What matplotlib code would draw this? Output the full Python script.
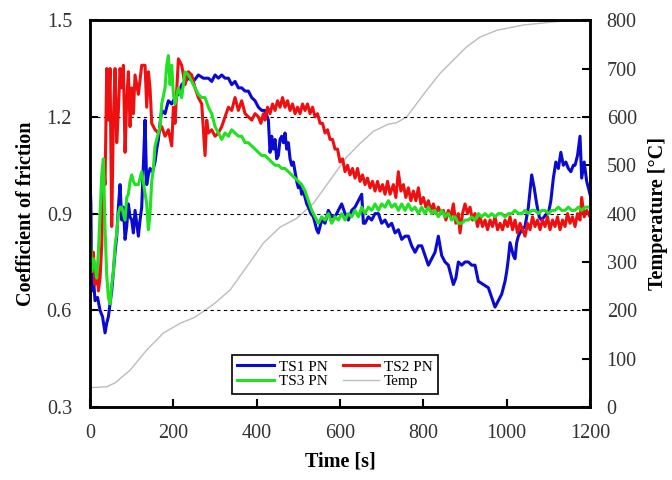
import matplotlib
matplotlib.use('Agg')
import matplotlib.pyplot as plt
from matplotlib.ticker import MultipleLocator

plt.rcParams['font.family'] = ['Liberation Serif', 'DejaVu Serif']

# Coefficient of friction, TS1 PN
ts1_t = [0, 2, 4, 8, 12, 18, 24, 30, 36, 40, 44, 48, 52, 56, 60, 64, 68, 72, 76, 80,
         84, 88, 92, 96, 100, 104, 108, 112, 116, 120, 124, 128, 132, 136, 140, 144,
         150, 156, 160, 164, 168, 172, 180, 188, 196, 204, 212, 220, 228, 236, 248,
         260, 272, 284, 292, 300, 308, 316, 324, 332, 340, 348, 356, 364, 372, 380,
         388, 396, 404, 412, 420, 428, 432, 436, 440, 444, 448, 452, 456, 460, 464,
         468, 472, 476, 480, 484, 488, 492, 496, 500, 504, 508, 512, 516, 520, 524,
         530, 536, 540, 544, 548, 552, 556, 564, 572, 580, 588, 596, 604, 612, 620,
         628, 636, 644, 652, 656, 660, 668, 676, 684, 692, 700, 708, 716, 724, 732,
         740, 748, 756, 764, 772, 780, 788, 796, 804, 812, 820, 828, 836, 844, 852,
         860, 866, 872, 878, 884, 892, 900, 908, 916, 924, 932, 944, 956, 964, 972,
         980, 988, 996, 1000, 1004, 1008, 1012, 1016, 1020, 1024, 1028, 1036, 1044,
         1052, 1060, 1066, 1072, 1078, 1084, 1090, 1096, 1100, 1106, 1112, 1118,
         1124, 1130, 1136, 1142, 1148, 1154, 1160, 1164, 1170, 1176, 1180, 1186,
         1192, 1196, 1200]
ts1_cof = [1.00, 0.93, 0.66, 0.70, 0.63, 0.64, 0.60, 0.58, 0.53, 0.56, 0.58, 0.62,
           0.66, 0.72, 0.78, 0.83, 0.92, 0.99, 0.88, 0.92, 0.82, 0.86, 0.93, 0.89,
           0.88, 0.84, 0.91, 0.87, 0.83, 0.88, 0.92, 1.05, 1.19, 0.99, 1.02, 1.04,
           1.03, 1.06, 1.10, 1.13, 1.18, 1.22, 1.21, 1.25, 1.24, 1.26, 1.27, 1.30,
           1.31, 1.32, 1.31, 1.33, 1.32, 1.32, 1.31, 1.33, 1.32, 1.33, 1.32, 1.32,
           1.30, 1.31, 1.29, 1.29, 1.28, 1.28, 1.26, 1.25, 1.23, 1.22, 1.22, 1.19,
           1.09, 1.14, 1.10, 1.13, 1.07, 1.08, 1.13, 1.14, 1.12, 1.15, 1.10, 1.12,
           1.07, 1.05, 1.06, 1.03, 1.00, 0.98, 0.99, 0.96, 0.97, 0.95, 0.93, 0.92,
           0.90, 0.89, 0.87, 0.85, 0.84, 0.86, 0.88, 0.87, 0.91, 0.89, 0.89, 0.91,
           0.93, 0.90, 0.88, 0.91, 0.92, 0.94, 0.96, 0.87, 0.87, 0.89, 0.88, 0.90,
           0.90, 0.87, 0.88, 0.86, 0.87, 0.84, 0.85, 0.82, 0.83, 0.83, 0.80, 0.78,
           0.80, 0.80, 0.77, 0.74, 0.76, 0.78, 0.83, 0.77, 0.75, 0.74, 0.71, 0.68,
           0.70, 0.75, 0.74, 0.75, 0.75, 0.74, 0.74, 0.69, 0.68, 0.67, 0.64, 0.61,
           0.63, 0.65, 0.69, 0.72, 0.76, 0.81, 0.79, 0.77, 0.76, 0.81, 0.83, 0.85,
           0.86, 0.92, 1.02, 0.98, 0.93, 0.89, 0.88, 0.89, 0.90, 0.90, 0.94, 1.01,
           1.06, 1.04, 1.09, 1.05, 1.06, 1.04, 1.03, 1.05, 1.05, 1.08, 1.14, 1.01,
           1.06, 1.00, 0.98, 0.96]

# Coefficient of friction, TS2 PN
ts2_t = [0, 4, 8, 12, 16, 20, 24, 28, 32, 36, 40, 44, 48, 52, 56, 60, 64, 68, 72, 76,
         80, 84, 88, 92, 96, 100, 104, 108, 116, 124, 132, 136, 140, 144, 148, 156,
         164, 172, 180, 188, 196, 200, 204, 208, 212, 220, 228, 236, 244, 252, 260,
         268, 272, 276, 280, 284, 292, 300, 308, 316, 324, 332, 340, 348, 356, 364,
         372, 380, 388, 396,
         404, 410, 416, 420, 426, 432, 438, 444, 450, 456, 462, 468, 474, 480, 486,
         492, 498, 504, 510, 516, 522, 528, 534, 540, 546, 552, 558, 564, 570, 576,
         582, 588, 594, 600, 606, 612, 618, 624, 630, 636, 642, 648, 654, 660, 666,
         672, 678, 684, 690, 696, 702, 708, 714, 720, 728, 734, 740, 746, 752, 758,
         764, 770, 776, 782, 788, 794, 800, 806, 812, 818, 824, 830, 836, 842, 848,
         854, 860, 866, 872, 878, 884, 888, 894, 900, 906, 912, 918, 924, 930, 936,
         942, 948, 954, 960, 966, 972, 978, 984, 990, 996, 1002, 1008, 1014, 1020,
         1026, 1032, 1038, 1044, 1050, 1056, 1062, 1068, 1074, 1080, 1086, 1092,
         1098, 1104, 1110, 1116, 1122, 1128, 1134, 1140, 1146, 1152, 1158, 1164,
         1170, 1176, 1180, 1186, 1192, 1200]
ts2_cof = [0.78, 0.72, 0.78, 0.68, 0.74, 0.66, 0.70, 0.80, 1.05, 0.99, 1.35, 1.19,
           1.35, 0.86, 1.19, 1.35, 1.12, 1.22, 1.35, 1.29, 1.36, 1.09, 1.25, 1.34,
           1.17, 1.29, 1.21, 1.33, 1.27, 1.36, 1.36, 1.23, 1.34, 1.29, 1.18, 1.16,
           1.15, 1.17, 1.14, 1.16, 1.11, 1.23, 1.18, 1.28, 1.38, 1.36, 1.30, 1.34,
           1.33, 1.29, 1.26, 1.24, 1.16, 1.08, 1.19, 1.15, 1.16, 1.14, 1.15, 1.17,
           1.20, 1.23, 1.22, 1.26, 1.22, 1.25, 1.21, 1.20, 1.19, 1.21,
           1.20, 1.18, 1.21, 1.19, 1.23, 1.21, 1.24, 1.22, 1.25, 1.23, 1.26, 1.23,
           1.25, 1.22, 1.24, 1.21, 1.23, 1.21, 1.24, 1.22, 1.24, 1.21, 1.23, 1.20,
           1.21, 1.18, 1.18, 1.15, 1.16, 1.13, 1.13, 1.10, 1.10, 1.06, 1.07, 1.03,
           1.05, 1.02, 1.04, 1.01, 1.04, 1.00, 1.02, 0.99, 1.01, 0.98, 1.00, 0.97,
           1.00, 0.97, 0.99, 0.96, 1.00, 0.96, 0.99, 0.95, 1.03, 0.97, 0.99, 0.95,
           0.98, 0.94, 0.97, 0.94, 0.98, 0.93, 0.95, 0.92, 0.94, 0.91, 0.93, 0.90,
           0.92, 0.90, 0.91, 0.88, 0.91, 0.89, 0.93, 0.87, 0.90, 0.84, 0.90, 0.93,
           0.90, 0.92, 0.88, 0.90, 0.86, 0.89, 0.86, 0.88, 0.85, 0.88, 0.86, 0.89,
           0.85, 0.87, 0.85, 0.88, 0.86, 0.89, 0.85, 0.88, 0.84, 0.87, 0.85, 0.83,
           0.87, 0.85, 0.89, 0.86, 0.88, 0.85, 0.88, 0.86, 0.89, 0.85, 0.88, 0.86,
           0.89, 0.85, 0.88, 0.86, 0.90, 0.87, 0.89, 0.86, 0.90, 0.88, 0.95, 0.89,
           0.91, 0.89]

# Coefficient of friction, TS3 PN
ts3_t = [0, 4, 8, 12, 16, 20, 24, 28, 32, 36, 40, 44, 48, 52, 56, 60, 64, 68, 72, 76,
         80, 84, 88, 92, 96, 100, 104, 108, 116, 124, 130, 136, 140, 144, 148, 152,
         156, 164, 168, 172, 180, 184, 188, 192, 196, 200, 204, 212, 220, 228, 236,
         244, 252, 260, 268, 276, 284, 292,
         300, 308, 316, 324, 332, 340, 348, 356, 364, 372, 380, 388, 396, 404, 412,
         420, 428, 436, 444, 452, 460, 468, 476, 484, 492, 500, 508, 516, 524, 532,
         540, 548, 556, 564, 572, 580, 588, 596, 604, 612, 620, 628, 636, 644, 652,
         660, 668, 676, 684, 692, 700, 708, 716, 724, 732, 740, 748, 756, 764, 772,
         780, 788, 796, 804, 812, 820, 828, 836, 844, 852, 860, 868, 876, 884, 892,
         900, 908, 916, 924, 932, 940, 948, 956, 964, 972, 980, 988, 996, 1004,
         1012, 1020, 1028, 1036, 1044, 1052, 1060, 1068, 1076, 1084, 1092, 1100,
         1108, 1116, 1124, 1132, 1140, 1148, 1156, 1164, 1172, 1180, 1188, 1200]
ts3_cof = [0.85, 0.72, 0.76, 0.74, 0.70, 0.78, 0.90, 1.02, 1.07, 0.85, 0.71, 0.64,
           0.62, 0.68, 0.72, 0.80, 0.84, 0.90, 0.92, 0.92, 0.90, 0.88, 0.95, 0.96,
           1.00, 1.02, 1.00, 0.99, 0.99, 1.03, 0.98, 0.93, 0.85, 0.90, 1.00, 1.04,
           1.11, 1.15, 1.17, 1.24, 1.29, 1.36, 1.39, 1.30, 1.36, 1.27, 1.24, 1.29,
           1.26, 1.34, 1.33, 1.31, 1.29, 1.27, 1.26, 1.26, 1.23, 1.21,
           1.17, 1.15, 1.13, 1.15, 1.14, 1.16, 1.15, 1.14, 1.14, 1.12, 1.12, 1.11,
           1.10, 1.09, 1.08, 1.08, 1.07, 1.06, 1.05, 1.05, 1.04, 1.04, 1.03, 1.02,
           1.01, 1.00, 0.99, 0.97, 0.94, 0.91,
           0.89, 0.87, 0.89, 0.88, 0.90, 0.87, 0.89, 0.88, 0.90, 0.88, 0.90, 0.89,
           0.91, 0.89, 0.92, 0.90, 0.92, 0.91, 0.93, 0.91, 0.93, 0.92, 0.94, 0.92,
           0.93, 0.91, 0.93, 0.91, 0.93, 0.91, 0.92, 0.90, 0.92, 0.90, 0.92, 0.90,
           0.91, 0.89, 0.91, 0.89, 0.90, 0.88, 0.89, 0.87, 0.87, 0.88, 0.88, 0.89,
           0.88, 0.90, 0.89, 0.90, 0.89, 0.90, 0.89, 0.90, 0.90, 0.89, 0.90, 0.90,
           0.91, 0.90, 0.90, 0.91, 0.90, 0.91, 0.91, 0.90, 0.91, 0.91, 0.90, 0.91,
           0.91, 0.92, 0.91, 0.91, 0.92, 0.91, 0.91, 0.92, 0.91, 0.92, 0.92]

# Temperature [°C]
temp_t = [0, 40, 60, 96, 136, 176, 216, 250, 271, 300, 336, 376, 416, 456, 496, 536,
          576, 616, 648, 680, 716, 736, 760, 808, 840, 904, 936, 976, 1040, 1120,
          1176, 1200]
temp_c = [40, 42, 50, 76, 118, 153, 173, 185, 197, 215, 242, 290, 339, 372, 390, 421,
          469, 517, 545, 570, 585, 588, 600, 655, 690, 745, 765, 779, 790, 797, 800,
          800]

fig = plt.figure(figsize=(6.72, 4.8), dpi=100)
ax = fig.add_axes([0.134, 0.152, 0.744, 0.806])
ax2 = ax.twinx()
ax.set_zorder(ax2.get_zorder() + 1)
ax.patch.set_visible(False)

l4, = ax2.plot(temp_t, temp_c, color='#bcbcbc', lw=1.0, label='Temp')
l1, = ax.plot(ts1_t, ts1_cof, color='#0a0ad0', lw=2.2, label='TS1 PN')
l2, = ax.plot(ts2_t, ts2_cof, color='#ee1010', lw=2.2, label='TS2 PN')
l3, = ax.plot(ts3_t, ts3_cof, color='#22e022', lw=2.2, label='TS3 PN')

ax.set_xlim(0, 1200)
ax.set_ylim(0.3, 1.5)
ax2.set_ylim(0, 800)
ax.xaxis.set_major_locator(MultipleLocator(200))
ax.yaxis.set_major_locator(MultipleLocator(0.3))
ax2.yaxis.set_major_locator(MultipleLocator(100))

for a in (ax, ax2):
    for s in a.spines.values():
        s.set_linewidth(1.8)
ax.tick_params(direction='in', length=6, width=1.5, labelsize=14.5,
               labelcolor='#333333', top=False, right=False)
ax.tick_params(axis='y', pad=13)
ax.tick_params(axis='x', pad=12)
ax2.tick_params(direction='in', length=6, width=1.5, labelsize=14.5,
                labelcolor='#333333', pad=12)

ax.yaxis.grid(True, color='black', linestyle=(0, (3, 3)), lw=0.8)

ax.set_xlabel('Time [s]', fontsize=14.5, fontweight='bold', labelpad=6)
ax.set_ylabel('Coefficient of friction', fontsize=14.5, fontweight='bold', labelpad=8)
ax2.set_ylabel('Temperature [°C]', fontsize=14.5, fontweight='bold', labelpad=8)

leg = ax.legend([l1, l3, l2, l4], ['TS1 PN', 'TS3 PN', 'TS2 PN', 'Temp'], ncol=2,
                loc='lower center', bbox_to_anchor=(0.49, 0.015), fontsize=11,
                fancybox=False, framealpha=1, edgecolor='black', handlelength=2.4,
                handletextpad=0.3, columnspacing=1.0, labelspacing=0.05,
                borderpad=0.35)
leg.get_frame().set_linewidth(1.2)

fig.savefig('out.png', dpi=100)
